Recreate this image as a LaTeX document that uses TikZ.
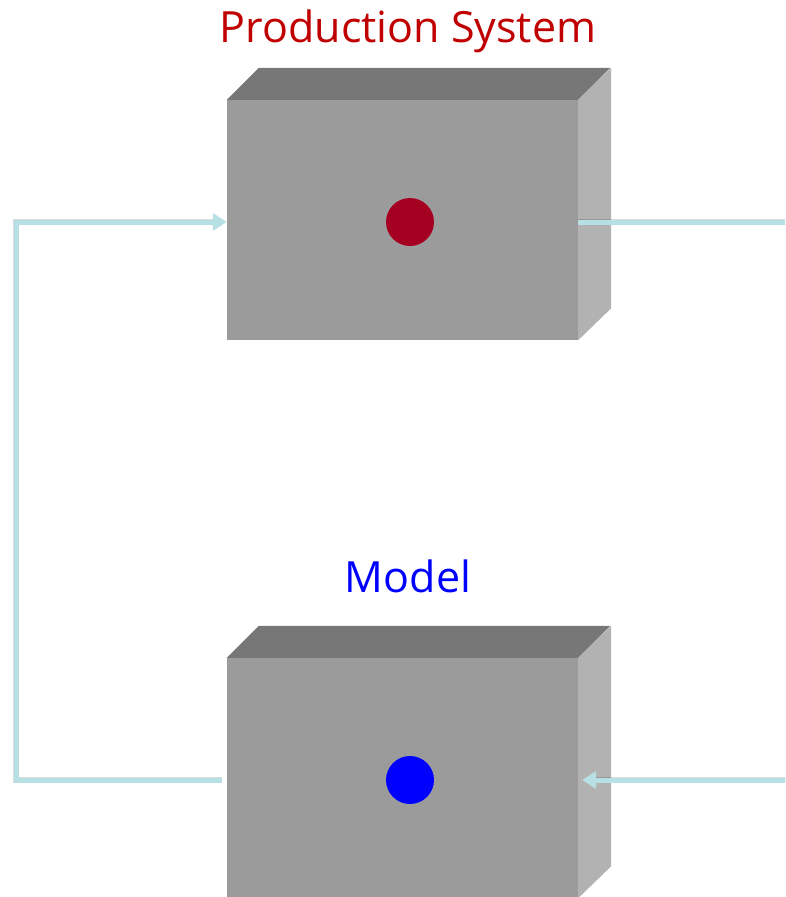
\documentclass[tikz,border=0pt]{standalone}
\usepackage{fontspec}
\setmainfont{Open Sans}
\usetikzlibrary{arrows.meta,calc}

\definecolor{frontgray}{HTML}{9B9B9B}
\definecolor{topgray}{HTML}{777777}
\definecolor{sidegray}{HTML}{B2B2B2}
\definecolor{wireblue}{HTML}{B7E0E4}
\definecolor{titlered}{HTML}{C00000}
\definecolor{dotred}{HTML}{A50021}

\tikzset{
  frontface/.style={rectangle, fill=frontgray, draw=none, minimum width=351pt, minimum height=240pt, inner sep=0pt},
  dotmark/.style={circle, draw=none, minimum size=48pt, inner sep=0pt},
  caption/.style={font=\fontsize{43}{48}\selectfont, anchor=base, inner sep=0pt},
  wire/.style={draw=wireblue, line width=5pt, line join=miter},
  wirehead/.style={wire, -{Triangle[length=14pt 0, width=17pt 0]}},
  wireshadow/.style={draw=black, line width=6pt, opacity=0.14, line join=miter},
}

% front face plus top and side faces of a box
\newcommand{\slab}[1]{%
  \fill[topgray] (#1.north west) -- ++(32,-32) -- ($(#1.north east)+(32,-32)$) -- (#1.north east) -- cycle;
  \fill[sidegray] (#1.north east) -- ++(33,-32) -- ($(#1.south east)+(33,-32)$) -- (#1.south east) -- cycle;
}

\begin{document}
\begin{tikzpicture}[x=1pt, y=-1pt]
  \useasboundingbox (0,0) rectangle (785,897);
  \begin{scope}
    \clip (0,0) rectangle (785,897);

    % the two boxes
    \node[frontface] (pbox) at (402.5,220) {};
    \node[frontface] (mbox) at (402.5,778) {};
    \slab{pbox}
    \slab{mbox}

    \node[dotmark, fill=dotred] (pdot) at (410,222) {};
    \node[dotmark, fill=blue] (mdot) at (410,780) {};

    \node[caption, text=titlered] (ptitle) at (408,42) {Production System};
    \node[caption, text=blue] (mtitle) at (408,592) {Model};

    % loop turning points
    \coordinate (leftrail) at (16,0);
    \coordinate (rightrail) at (788,0);
    \coordinate (lstart) at ($(mbox.west |- mdot)+(-5,0)$);
    \coordinate (lend) at (pbox.west |- pdot);
    \coordinate (rstart) at (pbox.east |- pdot);
    \coordinate (rend) at ($(mbox.east |- mdot)+(4,0)$);

    % soft shadows under the wires
    \begin{scope}[shift={(2,4)}]
      \draw[wireshadow] (lstart) -- (lstart -| leftrail) -- (leftrail |- lend) -- ($(lend)+(-12,0)$);
      \draw[wireshadow] (rstart) -- (rstart -| rightrail) -- (rightrail |- rend) -- ($(rend)+(12,0)$);
    \end{scope}

    % the feedback wires
    \draw[wirehead] (lstart) -- (lstart -| leftrail) -- (leftrail |- lend) -- (lend);
    \draw[wirehead] (rstart) -- (rstart -| rightrail) -- (rightrail |- rend) -- (rend);
  \end{scope}
\end{tikzpicture}
\end{document}
